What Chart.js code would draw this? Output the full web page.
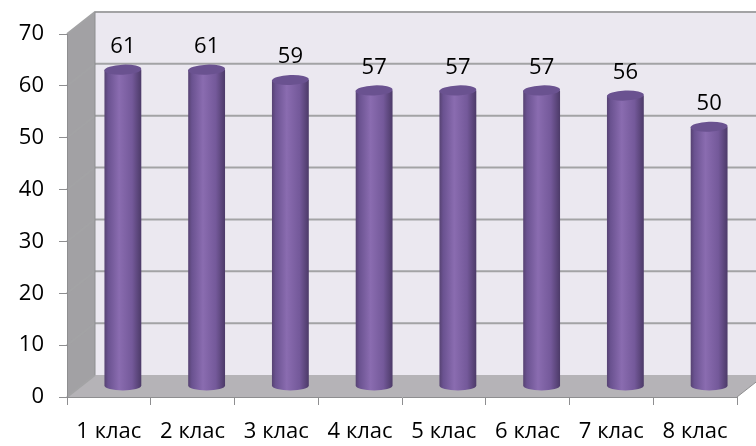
<!DOCTYPE html>
<html>
<head>
<meta charset="utf-8">
<script src="https://cdn.jsdelivr.net/npm/chart.js@4"></script>
<style>
  html, body { margin: 0; padding: 0; background: #fff; }
  #wrap { width: 756px; height: 446px; }
</style>
</head>
<body>
<div id="wrap"><canvas id="chart"></canvas></div>
<script>
const classes = ["1 клас", "2 клас", "3 клас", "4 клас", "5 клас", "6 клас", "7 клас", "8 клас"];
const scores = [61, 61, 59, 57, 57, 57, 56, 50];
const yTicks = [0, 10, 20, 30, 40, 50, 60, 70];

const DX = 28, DY = -22; // depth of the 3D box

// walls, floor and grid drawn behind everything
const box3d = {
  id: "box3d",
  beforeDraw(chart) {
    const { ctx, chartArea: a, scales: { y } } = chart;
    ctx.save();
    // back wall
    ctx.fillStyle = "#ebe8f0";
    ctx.fillRect(a.left + DX, a.top + DY, a.right - a.left, a.bottom - a.top);
    // left wall
    ctx.fillStyle = "#a2a1a4";
    ctx.beginPath();
    ctx.moveTo(a.left, a.top);
    ctx.lineTo(a.left + DX, a.top + DY);
    ctx.lineTo(a.left + DX, a.bottom + DY);
    ctx.lineTo(a.left, a.bottom);
    ctx.closePath();
    ctx.fill();
    // floor
    ctx.fillStyle = "#b5b3b7";
    ctx.beginPath();
    ctx.moveTo(a.left, a.bottom);
    ctx.lineTo(a.right, a.bottom);
    ctx.lineTo(a.right + DX, a.bottom + DY);
    ctx.lineTo(a.left + DX, a.bottom + DY);
    ctx.closePath();
    ctx.fill();
    // grid lines
    ctx.strokeStyle = "#a3a3a5";
    ctx.lineWidth = 2;
    yTicks.forEach(v => {
      const py = y.getPixelForValue(v);
      ctx.beginPath();
      ctx.moveTo(a.left, py);
      ctx.lineTo(a.left + DX, py + DY);
      if (v > 0) ctx.lineTo(a.right + DX + 2, py + DY);
      ctx.stroke();
    });
    // outline
    ctx.lineWidth = 1;
    ctx.strokeStyle = "#8e8e90";
    ctx.beginPath();
    ctx.moveTo(a.left + DX, a.top + DY);
    ctx.lineTo(a.left + DX, a.bottom + DY);
    ctx.moveTo(a.right, a.bottom);
    ctx.lineTo(a.right + DX, a.bottom + DY);
    ctx.stroke();
    ctx.restore();
  }
};

// cylinders + value labels
const cylinders = {
  id: "cylinders",
  afterDatasetsDraw(chart) {
    const { ctx } = chart;
    const meta = chart.getDatasetMeta(0);
    ctx.save();
    meta.data.forEach((bar, i) => {
      const cx = bar.x + DX / 2;
      const top = bar.y + DY / 2;
      const base = bar.base + DY / 2;
      const r = bar.width / 2;
      const ry = 5;
      const g = ctx.createLinearGradient(cx - r, 0, cx + r, 0);
      g.addColorStop(0, "#564272");
      g.addColorStop(0.1, "#6a5290");
      g.addColorStop(0.4, "#8a6cb0");
      g.addColorStop(0.75, "#74599a");
      g.addColorStop(1, "#4c3a68");
      ctx.fillStyle = g;
      ctx.beginPath();
      ctx.moveTo(cx - r, top);
      ctx.lineTo(cx - r, base);
      ctx.ellipse(cx, base, r, ry, 0, Math.PI, 0, true);
      ctx.lineTo(cx + r, top);
      ctx.closePath();
      ctx.fill();
      // top cap
      ctx.fillStyle = "#6a5290";
      ctx.beginPath();
      ctx.ellipse(cx, top, r, ry, -0.04, 0, Math.PI * 2);
      ctx.fill();
      // label
      ctx.fillStyle = "#000";
      ctx.font = "22px 'Open Sans'";
      ctx.textAlign = "center";
      ctx.textBaseline = "middle";
      ctx.fillText(String(scores[i]), cx, top - 23);
    });
    ctx.restore();
  }
};

new Chart(document.getElementById("chart"), {
  type: "bar",
  data: {
    labels: classes,
    datasets: [{
      data: scores,
      backgroundColor: "rgba(0,0,0,0)",
      categoryPercentage: 1,
      barPercentage: 0.44
    }]
  },
  options: {
    responsive: true,
    maintainAspectRatio: false,
    animation: false,
    layout: { padding: { left: 0, top: 34, right: 19, bottom: 0 } },
    plugins: { legend: { display: false }, tooltip: { enabled: false } },
    scales: {
      y: {
        min: 0,
        max: 70,
        afterFit(s) { s.width = 67; },
        afterBuildTicks(s) { s.ticks = yTicks.map(v => ({ value: v })); },
        ticks: { padding: 15, color: "#000", font: { family: "Open Sans", size: 22 } },
        grid: { drawOnChartArea: false, tickLength: 8, color: "#8e8e90" },
        border: { color: "#8e8e90" }
      },
      x: {
        afterFit(s) { s.height = 49; },
        ticks: { padding: 14, color: "#000", font: { family: "Open Sans", size: 22 }, maxRotation: 0, autoSkip: false },
        grid: { drawOnChartArea: false, tickLength: 8, color: "#8e8e90" },
        border: { color: "#8e8e90" }
      }
    }
  },
  plugins: [box3d, cylinders]
});
</script>
</body>
</html>
